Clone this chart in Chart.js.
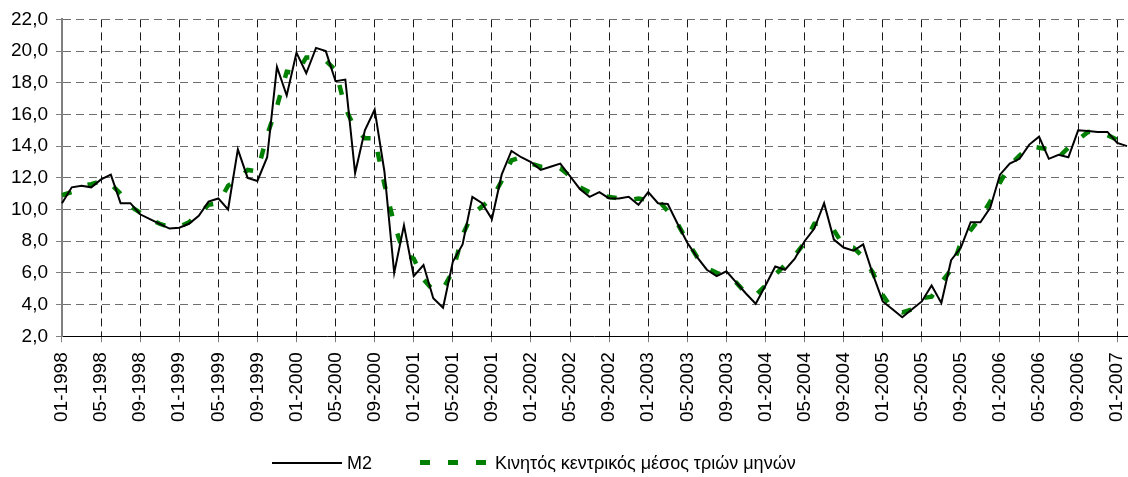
<!DOCTYPE html>
<html>
<head>
<meta charset="utf-8">
<script src="https://cdn.jsdelivr.net/npm/chart.js@4/dist/chart.umd.min.js"></script>
<style>
    body { margin: 0; background: #fff; }
    #wrap { position: relative; width: 1128px; height: 477px; }
    .legend { position: absolute; top: 451px; left: 0; height: 24px; font: 18px Arial, "Liberation Sans", sans-serif; color: #000; }
    .legend-item { position: absolute; top: 0; white-space: nowrap; line-height: 24px; }
    .legend-line { position: absolute; top: 11px; width: 70px; }
</style>
</head>
<body>
<div id="wrap">
    <canvas id="chart"></canvas>
    <div class="legend">
        <div class="legend-line" id="key-m2" style="left:272px;"></div>
        <div class="legend-item" id="label-m2" style="left:347px;"></div>
        <div class="legend-line" id="key-avg" style="left:420px;"></div>
        <div class="legend-item" id="label-avg" style="left:495px;"></div>
    </div>
</div>
<script>
// Month labels 01-1998 ... 02-2007
const months = [];
for (let y = 1998; y <= 2007; y++) {
    for (let m = 1; m <= 12; m++) {
        if (y === 2007 && m > 2) break;
        months.push(String(m).padStart(2, '0') + '-' + y);
    }
}

const seriesNames = ['M2', 'Κινητός κεντρικός μέσος τριών μηνών'];

// M2, annual growth (%)
const m2 = [
    10.4, 11.4, 11.5, 11.4, 11.9, 12.2, 10.4, 10.4, 9.7, 9.4, 9.1, 8.8,
    8.85, 9.1, 9.6, 10.5, 10.7, 10.0, 13.8, 12.0, 11.8, 13.3, 19.0, 17.2,
    19.9, 18.6, 20.2, 20.0, 18.1, 18.2, 12.3, 15.0, 16.3, 12.4, 6.0, 9.0,
    5.8, 6.5, 4.4, 3.8, 6.7, 7.8, 10.8, 10.4, 9.4, 12.2, 13.7, 13.3,
    13.0, 12.5, 12.7, 12.9, 12.1, 11.3, 10.8, 11.1, 10.7, 10.7, 10.8, 10.3,
    11.1, 10.4, 10.35, 9.1, 7.9, 7.0, 6.2, 5.8, 6.1, 5.4, 4.7, 4.05,
    5.2, 6.4, 6.2, 6.9, 8.0, 8.8, 10.4, 8.1, 7.6, 7.4, 7.8, 5.9,
    4.2, 3.7, 3.2, 3.7, 4.2, 5.2, 4.1, 6.8, 7.6, 9.2, 9.2, 10.1,
    12.2, 12.9, 13.2, 14.1, 14.6, 13.2, 13.45, 13.3, 15.0, 14.95, 14.9, 14.9,
    14.2, 14.0
];

// centred 3-month moving average
const movingAvg = [
    10.9, 11.1, 11.5, 11.6, 11.8, 11.6, 11.0, 10.2, 9.8, 9.4, 9.1, 8.9,
    8.9, 9.2, 9.7, 10.3, 10.4, 11.5, 11.9, 12.5, 12.4, 14.7, 16.5, 18.7,
    18.6, 19.6, 19.6, 19.4, 18.8, 16.4, 15.1, 14.5, 14.5, 11.6, 9.1, 7.2,
    6.9, 5.6, 4.9, 5.0, 6.1, 8.4, 9.7, 10.2, 10.7, 11.8, 13.1, 13.3,
    12.9, 12.7, 12.7, 12.6, 12.1, 11.4, 11.1, 10.9, 10.8, 10.7, 10.6, 10.7,
    10.6, 10.6, 9.9, 9.1, 8.0, 7.0, 6.3, 6.0, 5.8, 5.4, 4.7, 4.6,
    5.2, 5.9, 6.5, 7.1, 7.9, 9.1, 9.1, 8.7, 7.7, 7.6, 7.0, 6.0,
    4.6, 3.7, 3.5, 3.7, 4.4, 4.5, 5.4, 6.2, 7.9, 8.7, 9.5, 10.5,
    11.7, 12.8, 13.4, 14.0, 13.9, 13.8, 13.3, 13.9, 14.4, 14.9, 14.9, 14.7,
    14.4, null
];

const yMin = 2, yMax = 22, yStep = 2;

const m2Color = '#000000';
const avgColor = '#008000';
const avgDash = [10, 18];

Chart.defaults.font.family = 'Arial, "Liberation Sans", sans-serif';
Chart.defaults.font.size = 19;
Chart.defaults.color = '#000';

const canvas = document.getElementById('chart');
canvas.width = 1128;
canvas.height = 477;

new Chart(canvas.getContext('2d'), {
    type: 'line',
    data: {
        labels: months,
        datasets: [{
            label: seriesNames[0],
            data: m2,
            borderColor: m2Color,
            borderWidth: 2,
            pointRadius: 0,
            tension: 0
        }, {
            label: seriesNames[1],
            data: movingAvg,
            borderColor: avgColor,
            borderWidth: 4.5,
            borderDash: avgDash,
            borderCapStyle: 'butt',
            pointRadius: 0,
            tension: 0
        }]
    },
    options: {
        responsive: false,
        animation: false,
        layout: { padding: { top: 6, left: 3, right: 1, bottom: 45 } },
        plugins: {
            legend: { display: false },
            tooltip: { enabled: false }
        },
        scales: {
            x: {
                offset: false,
                // the plot runs right up to the last month, no room kept for a label there
                afterFit: scale => { scale.paddingRight = 0; },
                grid: {
                    // lines of unlabelled months are hidden by the null labels
                    color: ctx => ctx.index === 0 ? 'transparent' : '#1a1a1a',
                    tickColor: '#808080',
                    tickLength: 6,
                    tickBorderDash: []
                },
                border: { color: '#000', width: 1, dash: [8, 5] },
                ticks: {
                    autoSkip: false,
                    minRotation: 90,
                    maxRotation: 90,
                    padding: 10,
                    // only every 4th month gets a label
                    callback: (v, i) => i % 4 === 0 ? months[i] : null
                }
            },
            y: {
                min: yMin,
                max: yMax,
                grid: {
                    color: ctx => ctx.index === 0 ? 'transparent' : '#6e6e6e',
                    tickColor: '#808080',
                    tickLength: 6,
                    tickBorderDash: []
                },
                border: { color: '#808080', width: 2, dash: [8, 5] },
                ticks: {
                    stepSize: yStep,
                    padding: 8,
                    callback: v => v.toFixed(1).replace('.', ',')
                }
            }
        }
    }
});

// legend keys
document.getElementById('key-m2').style.borderTop = '2px solid ' + m2Color;
const keyAvg = document.getElementById('key-avg');
keyAvg.style.height = '5px';
keyAvg.style.top = '9px';
keyAvg.style.background = 'repeating-linear-gradient(to right, ' + avgColor + ' 0 ' + avgDash[0] + 'px, transparent ' +
    avgDash[0] + 'px ' + (avgDash[0] + avgDash[1]) + 'px)';
document.getElementById('label-m2').textContent = seriesNames[0];
document.getElementById('label-avg').textContent = seriesNames[1];
</script>
</body>
</html>
